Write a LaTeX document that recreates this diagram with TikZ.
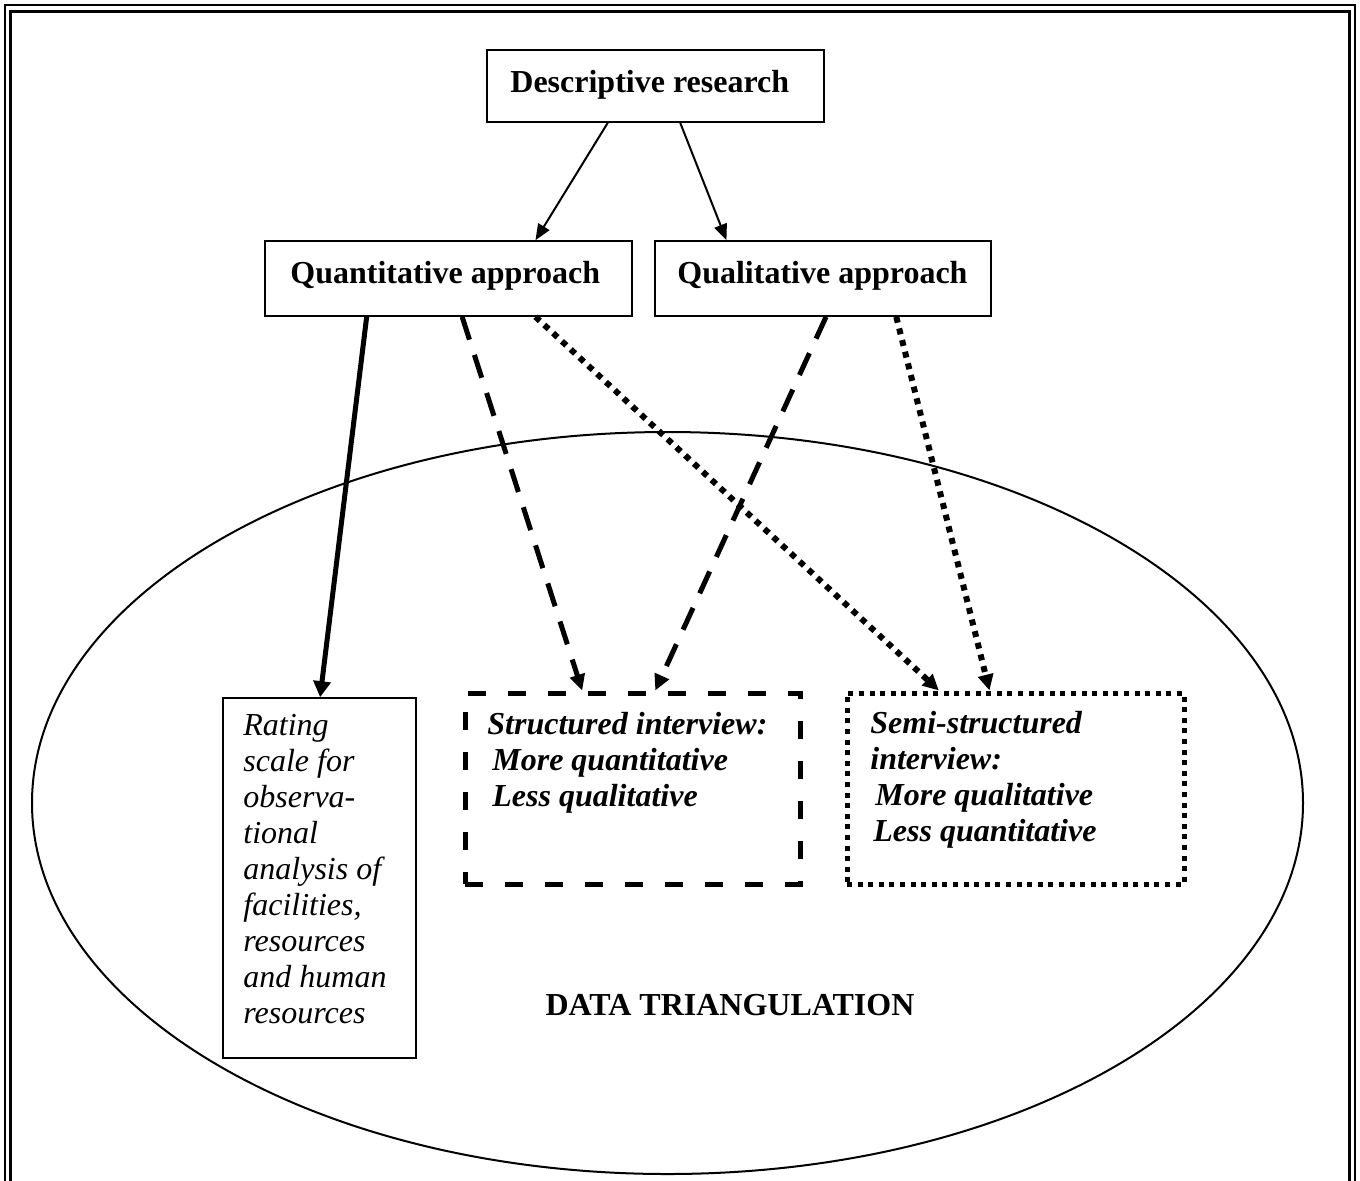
\documentclass[tikz,border=0pt]{standalone}
\usepackage{fontspec}
\setmainfont{Liberation Serif}
\usetikzlibrary{arrows.meta,shapes.geometric,calc}

\begin{document}
\begin{tikzpicture}[x=0.5pt,y=-0.5pt,
  box/.style={draw,rectangle,line width=0.8pt,inner sep=0pt},
  dashbox/.style={draw,rectangle,line width=2.5pt,inner sep=0pt,dash pattern=on 9pt off 11pt},
  dotbox/.style={draw,rectangle,line width=2.5pt,inner sep=0pt,dash pattern=on 2.5pt off 2.8pt},
  boldtxt/.style={inner sep=0pt,anchor=base west,font=\fontsize{16}{18}\selectfont\bfseries},
  bitxt/.style={inner sep=0pt,anchor=base west,align=flush left,text width=160pt,
    font=\fontsize{16}{18}\selectfont\bfseries\itshape},
  itxt/.style={inner sep=0pt,anchor=base west,align=flush left,text width=85pt,
    font=\fontsize{16}{18}\selectfont\itshape},
  thinarrow/.style={line width=1pt,-{Triangle[length=8pt,width=6.5pt]}},
  thickarrow/.style={line width=2.5pt,-{Triangle[length=8pt,width=8.5pt]}},
  dasharrow/.style={line width=2.5pt,dash pattern=on 12pt off 8pt,-{Triangle[length=8pt,width=7.5pt]}},
  dotarrow/.style={line width=3pt,dash pattern=on 3pt off 3pt,-{Triangle[length=8pt,width=7.5pt]}}
]
\useasboundingbox (0,0) rectangle (1360,1180);

% double page frame, open at the bottom
\draw[line width=1pt] (4.5,1190) -- (4.5,5) -- (1354.5,5) -- (1354.5,1190);
\draw[line width=1.5pt] (10.5,1190) -- (10.5,11) -- (1349,11) -- (1349,1190);

% triangulation ellipse
\node[draw,ellipse,line width=1pt,inner sep=0pt,minimum width=635.5pt,minimum height=371pt]
  (tri) at (667.5,803) {};
\node[boldtxt,anchor=base] (tritxt) at (730,1015) {DATA TRIANGULATION};

% boxes
\node[box,minimum width=168.5pt,minimum height=36pt] (desc) at (655.5,86) {};
\node[boldtxt] (desctxt) at (510,92) {Descriptive research};

\node[box,minimum width=183.5pt,minimum height=37.5pt] (quant) at (448.5,278.5) {};
\node[boldtxt] (quanttxt) at (290,283) {Quantitative approach};

\node[box,minimum width=168pt,minimum height=37.5pt] (qual) at (823,278.5) {};
\node[boldtxt] (qualtxt) at (677,283) {Qualitative approach};

\node[box,minimum width=96.5pt,minimum height=180pt] (rating) at (319.5,878) {};
\node[itxt] (ratingtxt) at (243,735) {Rating\\scale for\\observa-\\tional\\analysis of\\facilities,\\resources\\and human\\resources};

\node[dashbox,minimum width=167.5pt,minimum height=95.5pt] (struct) at (632.5,788.5) {};
\node[bitxt] (structtxt) at (487,734) {Structured interview:\\\hspace*{2.5pt}More quantitative\\\hspace*{2.5pt}Less qualitative};

\node[dotbox,minimum width=168.5pt,minimum height=95.5pt] (semi) at (1015.5,788.5) {};
\node[bitxt] (semitxt) at (870,733) {Semi-structured\\interview:\\\hspace*{2.5pt}More qualitative\\\hspace*{1.5pt}Less quantitative};

% connectors
\draw[thinarrow] ($(desc.south west)!0.359!(desc.south east)$) -- ($(quant.north west)!0.736!(quant.north east)$);
\draw[thinarrow] ($(desc.south west)!0.573!(desc.south east)$) -- ($(qual.north west)!0.214!(qual.north east)$);

\draw[thickarrow] ($(quant.south west)!0.278!(quant.south east)$) -- ($(rating.north west)!0.503!(rating.north east)$);
\draw[dasharrow] ($(quant.south west)!0.537!(quant.south east)$) -- ($(struct.north west)!0.352!(struct.north east)$);
\draw[dotarrow] ($(quant.south west)!0.736!(quant.south east)$) -- ($(semi.north west)!0.276!(semi.north east)$);

\draw[dasharrow] ($(qual.south west)!0.509!(qual.south east)$) -- ($(struct.north west)!0.567!(struct.north east)$);
\draw[dotarrow] ($(qual.south west)!0.717!(qual.south east)$) -- ($(semi.north west)!0.424!(semi.north east)$);
\end{tikzpicture}
\end{document}
